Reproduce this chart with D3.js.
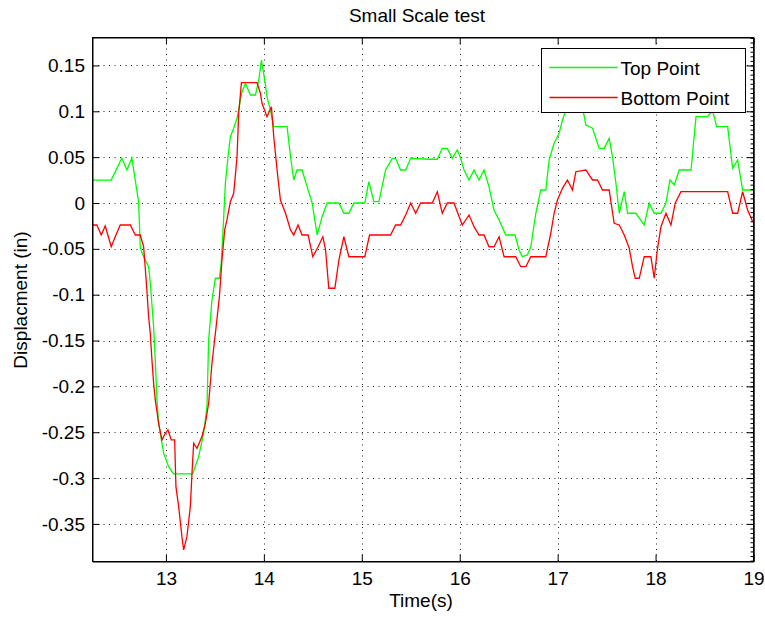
<!DOCTYPE html>
<html>
<head>
<meta charset="utf-8">
<script src="https://cdn.jsdelivr.net/npm/d3@7"></script>
<style>
  body { margin: 0; background: #fff; }
  svg text { font-family: "Liberation Sans", Arial, sans-serif; fill: #000; }
</style>
</head>
<body>
<svg id="chart" width="765" height="620"></svg>
<script>
// Displacement traces (time in s, displacement in inches)
const topTime = [12.243,12.441,12.550,12.601,12.652,12.721,12.738,12.772,12.823,12.840,12.874,12.891,12.908,12.925,12.976,13.027,13.078,13.273,13.334,13.385,13.419,13.436,13.470,13.505,13.546,13.566,13.590,13.607,13.634,13.658,13.692,13.726,13.760,13.777,13.812,13.863,13.914,13.948,13.975,14.009,14.032,14.067,14.101,14.237,14.272,14.305,14.339,14.390,14.441,14.493,14.544,14.595,14.646,14.766,14.817,14.868,14.919,15.031,15.072,15.123,15.175,15.243,15.311,15.345,15.396,15.448,15.499,15.686,15.771,15.822,15.873,15.924,15.975,16.010,16.044,16.095,16.146,16.197,16.248,16.299,16.350,16.402,16.470,16.565,16.606,16.640,16.691,16.726,16.777,16.828,16.879,16.913,16.964,17.015,17.049,17.084,17.140,17.209,17.260,17.288,17.356,17.424,17.475,17.526,17.560,17.595,17.629,17.680,17.714,17.799,17.884,17.935,17.986,18.055,18.106,18.147,18.191,18.242,18.362,18.413,18.531,18.582,18.623,18.736,18.787,18.838,18.889,19.000];
const topDisp = [0.025,0.025,0.049,0.036,0.049,0.001,-0.049,-0.0586,-0.0695,-0.0872,-0.1349,-0.1712,-0.2148,-0.2399,-0.2726,-0.2876,-0.2955,-0.2955,-0.2767,-0.2511,-0.2221,-0.1494,-0.1058,-0.0821,-0.0821,-0.064,-0.0149,0.0215,0.0505,0.0723,0.0815,0.0924,0.1123,0.1214,0.1305,0.1178,0.1178,0.1341,0.1559,0.1341,0.1159,0.1014,0.0832,0.0832,0.0505,0.0251,0.036,0.036,0.0178,0,-0.0349,-0.0149,0,0,-0.0112,-0.0112,0,0,0.0232,0.0014,0.0014,0.036,0.0487,0.0487,0.036,0.036,0.0487,0.0477,0.0477,0.0596,0.0596,0.0487,0.0578,0.0487,0.036,0.0251,0.036,0.0251,0.036,0.0178,-0.0076,-0.0185,-0.0349,-0.0349,-0.0512,-0.0586,-0.0567,-0.0477,-0.0112,0.0142,0.0142,0.0469,0.0651,0.076,0.0905,0.1014,0.107,0.107,0.101,0.085,0.0815,0.0596,0.0596,0.0705,0.0505,0.0215,-0.0112,0.0123,-0.0112,-0.0112,-0.024,0,-0.0112,-0.0112,0,0.0251,0.0196,0.036,0.036,0.0941,0.0941,0.1014,0.0832,0.0832,0.0378,0.0469,0.0142,0.0142];
const bottomTime = [12.243,12.294,12.339,12.380,12.441,12.482,12.533,12.636,12.687,12.738,12.772,12.789,12.805,12.823,12.840,12.857,12.874,12.891,12.925,12.959,12.994,13.020,13.055,13.089,13.102,13.130,13.163,13.181,13.214,13.249,13.266,13.283,13.317,13.368,13.403,13.436,13.470,13.505,13.546,13.572,13.600,13.623,13.658,13.692,13.726,13.743,13.771,13.930,13.965,13.981,14.032,14.077,14.101,14.135,14.169,14.221,14.272,14.305,14.349,14.390,14.452,14.500,14.554,14.602,14.630,14.663,14.725,14.766,14.817,14.868,15.031,15.079,15.294,15.345,15.396,15.448,15.499,15.550,15.601,15.720,15.771,15.822,15.873,15.941,16.026,16.095,16.146,16.197,16.248,16.299,16.350,16.402,16.453,16.572,16.623,16.675,16.726,16.879,16.930,16.964,16.998,17.049,17.100,17.151,17.186,17.288,17.356,17.407,17.458,17.526,17.577,17.629,17.680,17.731,17.765,17.792,17.833,17.884,17.952,17.986,18.020,18.055,18.106,18.157,18.201,18.259,18.736,18.787,18.838,18.889,18.940,18.992];
const bottomDisp = [-0.024,-0.024,-0.0349,-0.0251,-0.0477,-0.0368,-0.024,-0.024,-0.0349,-0.0349,-0.0477,-0.0712,-0.0949,-0.124,-0.1421,-0.1712,-0.1966,-0.2148,-0.2402,-0.2584,-0.2511,-0.2475,-0.2584,-0.2584,-0.3094,-0.3312,-0.3639,-0.3784,-0.3639,-0.3312,-0.2948,-0.262,-0.2675,-0.2548,-0.2402,-0.2184,-0.1748,-0.1421,-0.1022,-0.0622,-0.0294,-0.0185,0.0014,0.0106,0.0505,0.0978,0.1312,0.1312,0.1196,0.1087,0.0941,0.105,0.0723,0.036,0.0033,-0.0112,-0.0294,-0.0349,-0.024,-0.0349,-0.0349,-0.0586,-0.0477,-0.0368,-0.0512,-0.093,-0.093,-0.0622,-0.0368,-0.0586,-0.0586,-0.0349,-0.0349,-0.024,-0.024,-0.0131,0,-0.0112,0,0,0.0123,-0.0112,0,0,-0.024,-0.0131,-0.0258,-0.0349,-0.0349,-0.0477,-0.0477,-0.0368,-0.0586,-0.0586,-0.0695,-0.0695,-0.0586,-0.0586,-0.033,-0.0112,0.0033,0.016,0.0251,0.0142,0.0341,0.036,0.0251,0.0251,0.0142,0.0142,-0.0221,-0.024,-0.0349,-0.0494,-0.0695,-0.0821,-0.0821,-0.0586,-0.0586,-0.0821,-0.0494,-0.0258,-0.0112,-0.024,0,0.0123,0.0123,-0.0112,-0.0112,0.0123,-0.0076,-0.0204];

const xTicks = [13, 14, 15, 16, 17, 18, 19];
const yTicks = [0.15, 0.1, 0.05, 0, -0.05, -0.1, -0.15, -0.2, -0.25, -0.3, -0.35];
const seriesNames = ["Top Point", "Bottom Point"];
const seriesColors = ["#00ff00", "#ff0000"];
const titleText = "Small Scale test";
const xLabel = "Time(s)";
const yLabel = "Displacment (in)";

const svg = d3.select("#chart");
const boxL = 92.5, boxR = 753.5, boxT = 37.5, boxB = 561.5;
const x = d3.scaleLinear().domain([12.25, 19]).range([boxL, boxR]);
const y = d3.scaleLinear().domain([-0.391, 0.1805]).range([boxB, boxT]);
const fontSize = 19;

// dotted grid
const grid = svg.append("g").attr("stroke", "#222").attr("stroke-width", 1)
  .attr("stroke-dasharray", "1,4.5");
grid.selectAll("line.gx").data(xTicks.slice(0, -1)).join("line").attr("class", "gx")
  .attr("x1", d => Math.round(x(d)) + 0.5).attr("x2", d => Math.round(x(d)) + 0.5)
  .attr("y1", boxT).attr("y2", boxB);
grid.selectAll("line.gy").data(yTicks).join("line").attr("class", "gy")
  .attr("y1", d => Math.round(y(d)) + 0.5).attr("y2", d => Math.round(y(d)) + 0.5)
  .attr("x1", boxL).attr("x2", boxR);

// data lines, clipped to the axes box
svg.append("clipPath").attr("id", "plotClip").append("rect")
  .attr("x", boxL).attr("y", boxT).attr("width", boxR - boxL).attr("height", boxB - boxT);
const line = d3.line().x(d => x(d[0])).y(d => y(d[1]));
const series = [
  d3.zip(topTime, topDisp),
  d3.zip(bottomTime, bottomDisp)
];
svg.append("g").attr("clip-path", "url(#plotClip)")
  .selectAll("path").data(series).join("path")
  .attr("d", line).attr("fill", "none")
  .attr("stroke", (d, i) => seriesColors[i]).attr("stroke-width", 1.3);

// axes with inward ticks on all four sides
const tickLen = 7;
const fmt = d => String(d);
const axL = svg.append("g").attr("transform", `translate(${boxL},0)`)
  .call(d3.axisLeft(y).tickValues(yTicks).tickFormat(fmt).tickSizeInner(-tickLen).tickSizeOuter(0).tickPadding(7.5));
const axB = svg.append("g").attr("transform", `translate(0,${boxB})`)
  .call(d3.axisBottom(x).tickValues(xTicks).tickFormat(fmt).tickSizeInner(-tickLen).tickSizeOuter(0).tickPadding(10));
const axT = svg.append("g").attr("transform", `translate(0,${boxT})`)
  .call(d3.axisTop(x).tickValues(xTicks).tickFormat("").tickSizeInner(-tickLen).tickSizeOuter(0));
const axR = svg.append("g").attr("transform", `translate(${boxR},0)`)
  .call(d3.axisRight(y).tickValues(yTicks).tickFormat("").tickSizeInner(-tickLen).tickSizeOuter(0));
// fine ticks along the right edge
const fineTicks = d3.range(-0.39, 0.18, 0.005);
svg.append("g").attr("transform", `translate(${boxR},0)`)
  .call(d3.axisRight(y).tickValues(fineTicks).tickFormat("").tickSizeInner(-3).tickSizeOuter(0))
  .call(g => g.select(".domain").remove())
  .selectAll(".tick line").attr("stroke", "#000");

[axL, axB, axT, axR].forEach(g => {
  g.select(".domain").attr("stroke", "#000").attr("stroke-width", 1);
  g.selectAll(".tick line").attr("stroke", "#000");
  g.selectAll("text").attr("font-size", fontSize).attr("font-family", '"Liberation Sans", Arial, sans-serif').attr("fill", "#000");
});
axR.select(".domain").attr("stroke-width", 1.5);
svg.append("rect").attr("x", boxL).attr("y", boxT).attr("width", boxR - boxL).attr("height", boxB - boxT)
  .attr("fill", "none").attr("stroke", "#000").attr("stroke-width", 1);

// title and axis labels
svg.append("text").attr("x", 417).attr("y", 22).attr("text-anchor", "middle")
  .attr("font-size", fontSize).text(titleText);
svg.append("text").attr("x", 421).attr("y", 607).attr("text-anchor", "middle")
  .attr("font-size", fontSize).text(xLabel);
svg.append("text").attr("transform", "translate(27,300) rotate(-90)").attr("text-anchor", "middle")
  .attr("font-size", fontSize).text(yLabel);

// legend
const lg = svg.append("g").attr("transform", "translate(541.5,48.5)");
lg.append("rect").attr("width", 204).attr("height", 64).attr("fill", "#fff").attr("stroke", "#000");
seriesNames.forEach((name, i) => {
  const cy = 19 + i * 30;
  lg.append("line").attr("x1", 8).attr("x2", 76).attr("y1", cy).attr("y2", cy)
    .attr("stroke", seriesColors[i]).attr("stroke-width", 1.3);
  lg.append("text").attr("x", 79).attr("y", cy + 7).attr("font-size", fontSize).text(name);
});
</script>
</body>
</html>
